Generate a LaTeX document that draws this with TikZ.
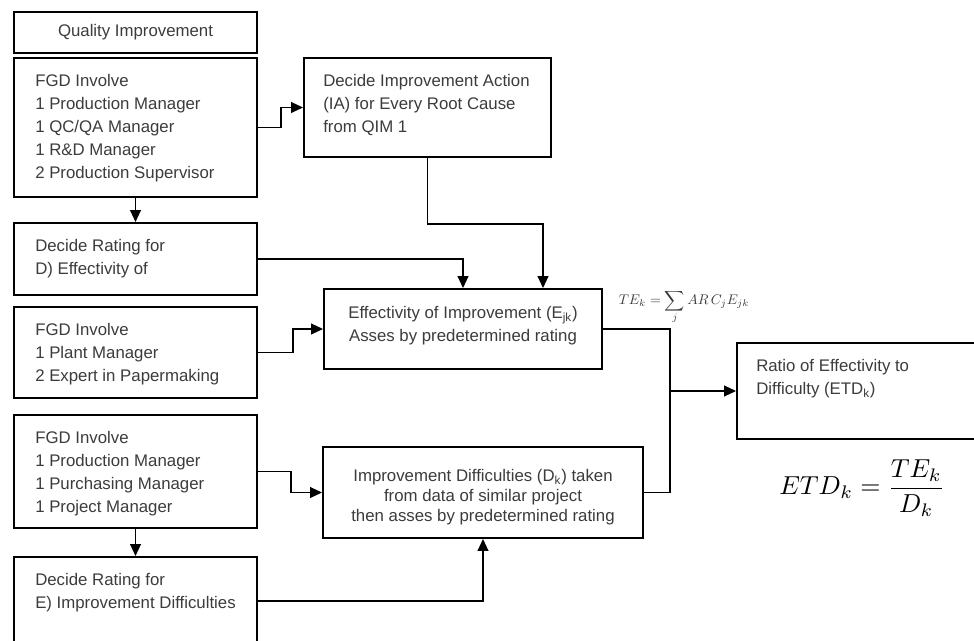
\documentclass[tikz,border=0pt]{standalone}
\usepackage{amsmath}
\usepackage{fontspec}
\setmainfont{Liberation Sans}
\usepackage{tikz}
\usetikzlibrary{arrows.meta}
\usetikzlibrary{calc}
\definecolor{txtgray}{RGB}{60,60,60}
\newcommand{\px}{0.75pt}

\begin{document}
\begin{tikzpicture}[x=0.75pt,y=0.75pt,yscale=-1,xscale=1,
  box/.style={draw, line width=1.4pt, inner sep=0pt},
  lbl/.style={inner sep=0pt, align=left, text=txtgray, font=\fontsize{12.6}{17.25}\selectfont},
  clbl/.style={lbl, align=center},
  conn/.style={line width=1.4pt},
  arr/.style={conn, -{Triangle[length=9pt,width=8pt]}}]
\useasboundingbox (0,0) rectangle (974,641);
\fill[white] (0,0) rectangle (974,641);

%Shape: Rectangle [Quality Improvement]
\node[box, minimum width=243*\px, minimum height=41*\px] (qi) at (135.5,32.5) {};
%Shape: Rectangle [FGD 1]
\node[box, minimum width=243*\px, minimum height=139*\px] (fgdA) at (135.5,127.5) {};
%Shape: Rectangle [Improvement Action]
\node[box, minimum width=247*\px, minimum height=99*\px] (decIA) at (427.5,107.5) {};
%Shape: Rectangle [Rating D]
\node[box, minimum width=243*\px, minimum height=72*\px] (rateD) at (135.5,259) {};
%Shape: Rectangle [FGD 2]
\node[box, minimum width=243*\px, minimum height=91*\px] (fgdB) at (135.5,352.5) {};
%Shape: Rectangle [Effectivity]
\node[box, minimum width=278*\px, minimum height=80*\px] (effect) at (463,329) {};
%Shape: Rectangle [FGD 3]
\node[box, minimum width=243*\px, minimum height=113*\px] (fgdC) at (135.5,471.5) {};
%Shape: Rectangle [Rating E]
\node[box, minimum width=243*\px, minimum height=88*\px] (rateE) at (135.5,601) {};
%Shape: Rectangle [Difficulties]
\node[box, minimum width=320*\px, minimum height=91*\px] (diff) at (483,492.5) {};
%Shape: Rectangle [Ratio]
\node[box, minimum width=248*\px, minimum height=96*\px] (ratio) at (861,391) {};

%Connectors
\draw[arr] (fgdA.east) -- ++(23,0) |- (decIA.west);
\draw[arr] (fgdA.south) -- (rateD.north);
\draw[arr] (decIA.south) -- ++(0,66) -| ($(effect.north)+(80,0)$);
\draw[arr] (rateD.east) -| (effect.north);
\draw[arr] (fgdB.east) -- ++(35,0) |- (effect.west);
\draw[conn] (effect.east) -- ++(67,0) coordinate (jn) |- (diff.east);
\draw[arr] (jn |- ratio.west) -- (ratio.west);
\draw[arr] (fgdC.east) -- ++(33,0) |- (diff.west);
\draw[arr] (fgdC.south) -- (rateE.north);
\draw[arr] (rateE.east) -| (diff.south);

% Text Node
\node[clbl] (qiTxt) at (qi) {Quality Improvement};
% Text Node
\node[lbl, anchor=north west] (fgdATxt) at (35,74) {FGD Involve\\1 Production Manager\\1 QC/QA Manager\\1 R\&D Manager\\2 Production Supervisor};
% Text Node
\node[lbl, anchor=north west] (decIATxt) at (323,74) {Decide Improvement Action\\(IA) for Every Root Cause\\from QIM 1};
% Text Node
\node[lbl, anchor=north west] (rateDTxt) at (35,239) {Decide Rating for\\D) Effectivity of};
% Text Node
\node[lbl, anchor=north west] (fgdBTxt) at (35,323) {FGD Involve\\1 Plant Manager\\2 Expert in Papermaking};
% Text Node
\node[clbl] (effectTxt) at (463,326) {Effectivity of Improvement (E\textsubscript{jk})\\Asses by predetermined rating};
% Text Node
\node[lbl, anchor=north west] (fgdCTxt) at (35,431) {FGD Involve\\1 Production Manager\\1 Purchasing Manager\\1 Project Manager};
% Text Node
\node[lbl, anchor=north west] (rateETxt) at (35,573) {Decide Rating for\\E) Improvement Difficulties};
% Text Node
\node[clbl, font=\fontsize{12.6}{15}\selectfont] (diffTxt) at (483,497.5) {Improvement Difficulties (D\textsubscript{k}) taken\\from data of similar project\\then asses by predetermined rating};
% Text Node
\node[lbl, anchor=north west] (ratioTxt) at (756,359) {Ratio of Effectivity to\\Difficulty (ETD\textsubscript{k})};

% Formulas
\node[text=txtgray, inner sep=0pt] (teForm) at (684,307) {\scalebox{1.05}{$\displaystyle TE_k=\sum_j AR\,C_jE_{jk}$}};
\node[inner sep=0pt] (etdForm) at (862,488) {\scalebox{1.95}{$ETD_k=\dfrac{TE_k}{D_k}$}};

\end{tikzpicture}
\end{document}
